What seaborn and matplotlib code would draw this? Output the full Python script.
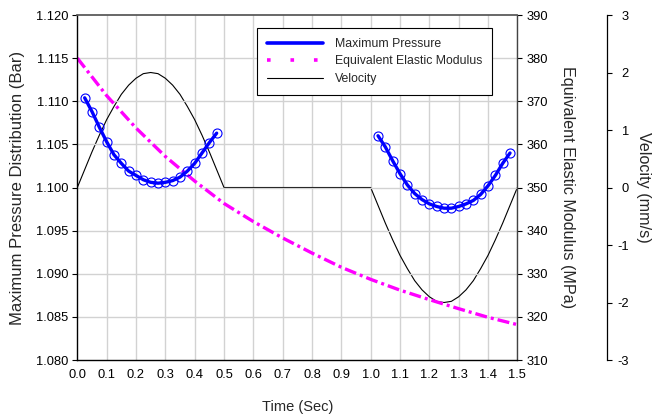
import matplotlib
matplotlib.use("Agg")
import matplotlib.pyplot as plt
from matplotlib.lines import Line2D
import seaborn as sns

# --- data ---
time_p1 = [0.025, 0.05, 0.075, 0.1, 0.125, 0.15, 0.175, 0.2, 0.225, 0.25,
           0.275, 0.3, 0.325, 0.35, 0.375, 0.4, 0.425, 0.45, 0.475]
pressure_p1 = [1.1104, 1.1088, 1.1070, 1.1053, 1.1038, 1.1028, 1.1019, 1.1014, 1.1009, 1.1006,
               1.1005, 1.1006, 1.1008, 1.1012, 1.1019, 1.1028, 1.1040, 1.1052, 1.1063]

time_p2 = [1.025, 1.05, 1.075, 1.1, 1.125, 1.15, 1.175, 1.2, 1.225, 1.25,
           1.275, 1.3, 1.325, 1.35, 1.375, 1.4, 1.425, 1.45, 1.475]
pressure_p2 = [1.1060, 1.1047, 1.1031, 1.1016, 1.1003, 1.0993, 1.0986, 1.0981, 1.0978, 1.0976,
               1.0976, 1.0978, 1.0981, 1.0985, 1.0992, 1.1002, 1.1014, 1.1028, 1.1040]

time_mod = [0.0, 0.1, 0.2, 0.3, 0.4, 0.5, 0.6, 0.7, 0.8, 0.9, 1.0, 1.1, 1.2, 1.3, 1.4, 1.5]
modulus = [380.0, 371.3, 363.8, 357.2, 351.5, 346.3, 342.1, 338.3, 334.8, 331.5,
           328.7, 326.2, 324.0, 321.9, 319.9, 318.2]

time_vel = [0.0, 0.025, 0.05, 0.075, 0.1, 0.125, 0.15, 0.175, 0.2, 0.225, 0.25,
            0.275, 0.3, 0.325, 0.35, 0.375, 0.4, 0.425, 0.45, 0.475, 0.5,
            1.0, 1.025, 1.05, 1.075, 1.1, 1.125, 1.15, 1.175, 1.2, 1.225, 1.25,
            1.275, 1.3, 1.325, 1.35, 1.375, 1.4, 1.425, 1.45, 1.475, 1.5]
velocity = [0.0, 0.31, 0.62, 0.91, 1.18, 1.41, 1.62, 1.78, 1.90, 1.98, 2.0,
            1.98, 1.90, 1.78, 1.62, 1.41, 1.18, 0.91, 0.62, 0.31, 0.0,
            0.0, -0.31, -0.62, -0.91, -1.18, -1.41, -1.62, -1.78, -1.90, -1.98, -2.0,
            -1.98, -1.90, -1.78, -1.62, -1.41, -1.18, -0.91, -0.62, -0.31, 0.0]

x_ticks = [0.0, 0.1, 0.2, 0.3, 0.4, 0.5, 0.6, 0.7, 0.8, 0.9, 1.0, 1.1, 1.2, 1.3, 1.4, 1.5]
p_ticks = [1.080, 1.085, 1.090, 1.095, 1.100, 1.105, 1.110, 1.115, 1.120]
m_ticks = [310, 320, 330, 340, 350, 360, 370, 380, 390]
v_ticks = [-3, -2, -1, 0, 1, 2, 3]

sns.set_theme(style="white")
plt.rcParams["font.family"] = ["Liberation Sans", "DejaVu Sans"]
plt.rcParams["axes.unicode_minus"] = False

BLUE = "#0000ff"
MAGENTA = "#ff00ff"
TICK_FS = 9.3

fig = plt.figure(figsize=(6.62, 4.19), dpi=100)
ax = fig.add_axes([0.1168, 0.1408, 0.6647, 0.8234])
ax2 = ax.twinx()
ax3 = ax.twinx()

# velocity (thin black)
sns.lineplot(x=time_vel, y=velocity, ax=ax3, color="black", lw=0.8,
             sort=False, estimator=None)

# elastic modulus (magenta dash-dot)
sns.lineplot(x=time_mod, y=modulus, ax=ax2, color=MAGENTA, lw=2.4,
             sort=False, estimator=None)
ax2.lines[-1].set_dashes([3.6, 1.2, 0.9, 1.2])
ax2.lines[-1].set_dash_capstyle("butt")

# maximum pressure (two blue segments with open circles)
for t, p in [(time_p1, pressure_p1), (time_p2, pressure_p2)]:
    sns.lineplot(x=t, y=p, ax=ax, color=BLUE, lw=2.4, marker="o",
                 markersize=6.5, markerfacecolor="none", markeredgecolor=BLUE,
                 markeredgewidth=0.8, sort=False, estimator=None)

# pressure above the other twins
ax.set_zorder(3)
ax.patch.set_visible(False)
ax2.set_zorder(2)
ax3.set_zorder(1)

# left / bottom axis
ax.set_xlim(0, 1.5)
ax.set_ylim(1.080, 1.120)
ax.set_xticks(x_ticks)
ax.set_xticklabels([f"{v:.1f}" for v in x_ticks])
ax.set_yticks(p_ticks)
ax.set_yticklabels([f"{v:.3f}" for v in p_ticks])
ax.tick_params(axis="y", direction="out", length=3.5, width=0.8, pad=3,
               colors="black", labelsize=TICK_FS)
ax.tick_params(axis="x", direction="inout", length=5, width=0.8, pad=4,
               colors="black", labelsize=TICK_FS)
ax.set_xlabel("Time (Sec)", fontsize=10.5)
ax.set_ylabel("Maximum Pressure Distribution (Bar)", fontsize=12.0)
ax.xaxis.set_label_coords(0.5, -0.136)
ax.yaxis.set_label_coords(-0.135, 0.5)
ax.yaxis.label.set_va("center")
ax.xaxis.label.set_va("center")
ax.grid(False)
for s in ["left", "bottom"]:
    ax.spines[s].set_color("black")
    ax.spines[s].set_linewidth(1.0)
ax.spines["top"].set_color("#555555")
ax.spines["right"].set_visible(False)

# grid drawn on the lower twins so it stays behind the curves
for xv in x_ticks[1:]:
    ax3.axvline(xv, color="#d2d2d2", lw=1.0, zorder=0)
for mv in m_ticks[1:-1]:
    ax2.axhline(mv, color="#d2d2d2", lw=1.0, zorder=0)

# elastic modulus axis
ax2.set_ylim(310, 390)
ax2.set_yticks(m_ticks)
ax2.set_yticklabels([str(v) for v in m_ticks])
ax2.tick_params(axis="y", direction="out", length=3.5, width=0.8, pad=3,
                colors="black", labelsize=TICK_FS)
ax2.set_ylabel("Equivalent Elastic Modulus (MPa)", fontsize=11.6, rotation=-90)
ax2.yaxis.set_label_coords(1.113, 0.5)
ax2.yaxis.label.set_va("center")
for s in ["left", "top", "bottom"]:
    ax2.spines[s].set_visible(False)
ax2.spines["right"].set_color("#444444")
ax2.spines["right"].set_linewidth(1.0)

# velocity axis, offset to the right
ax3.set_ylim(-3, 3)
ax3.set_yticks(v_ticks)
ax3.set_yticklabels([str(v) for v in v_ticks])
ax3.spines["right"].set_position(("axes", 1.2045))
for s in ["left", "top", "bottom"]:
    ax3.spines[s].set_visible(False)
ax3.spines["right"].set_color("black")
ax3.spines["right"].set_linewidth(0.9)
ax3.tick_params(axis="y", direction="out", length=3.5, width=0.8, pad=12,
                colors="black", labelsize=TICK_FS)
for lab in ax3.get_yticklabels():
    lab.set_horizontalalignment("right")
ax3.set_ylabel("Velocity (mm/s)", fontsize=11.6, rotation=-90)
ax3.yaxis.set_label_coords(1.286, 0.5)
ax3.yaxis.label.set_va("center")
ax3.tick_params(axis="x", bottom=False, labelbottom=False)

for a in (ax, ax2, ax3):
    a.set_xlim(0, 1.5)

handles = [
    Line2D([], [], color=BLUE, lw=2.6),
    Line2D([], [], color=MAGENTA, lw=2.6, dashes=[1, 5.5]),
    Line2D([], [], color="black", lw=0.8),
]
labels = ["Maximum Pressure", "Equivalent Elastic Modulus", "Velocity"]
leg = ax.legend(handles, labels, loc="upper left", bbox_to_anchor=(0.408, 0.962),
                borderaxespad=0, fontsize=8.8, frameon=True, fancybox=False,
                framealpha=1, edgecolor="black", handlelength=4.6, handletextpad=1.0,
                labelspacing=0.45, borderpad=0.8)
leg.get_frame().set_linewidth(0.8)
leg.set_zorder(10)

fig.savefig("out.png", dpi=100)
